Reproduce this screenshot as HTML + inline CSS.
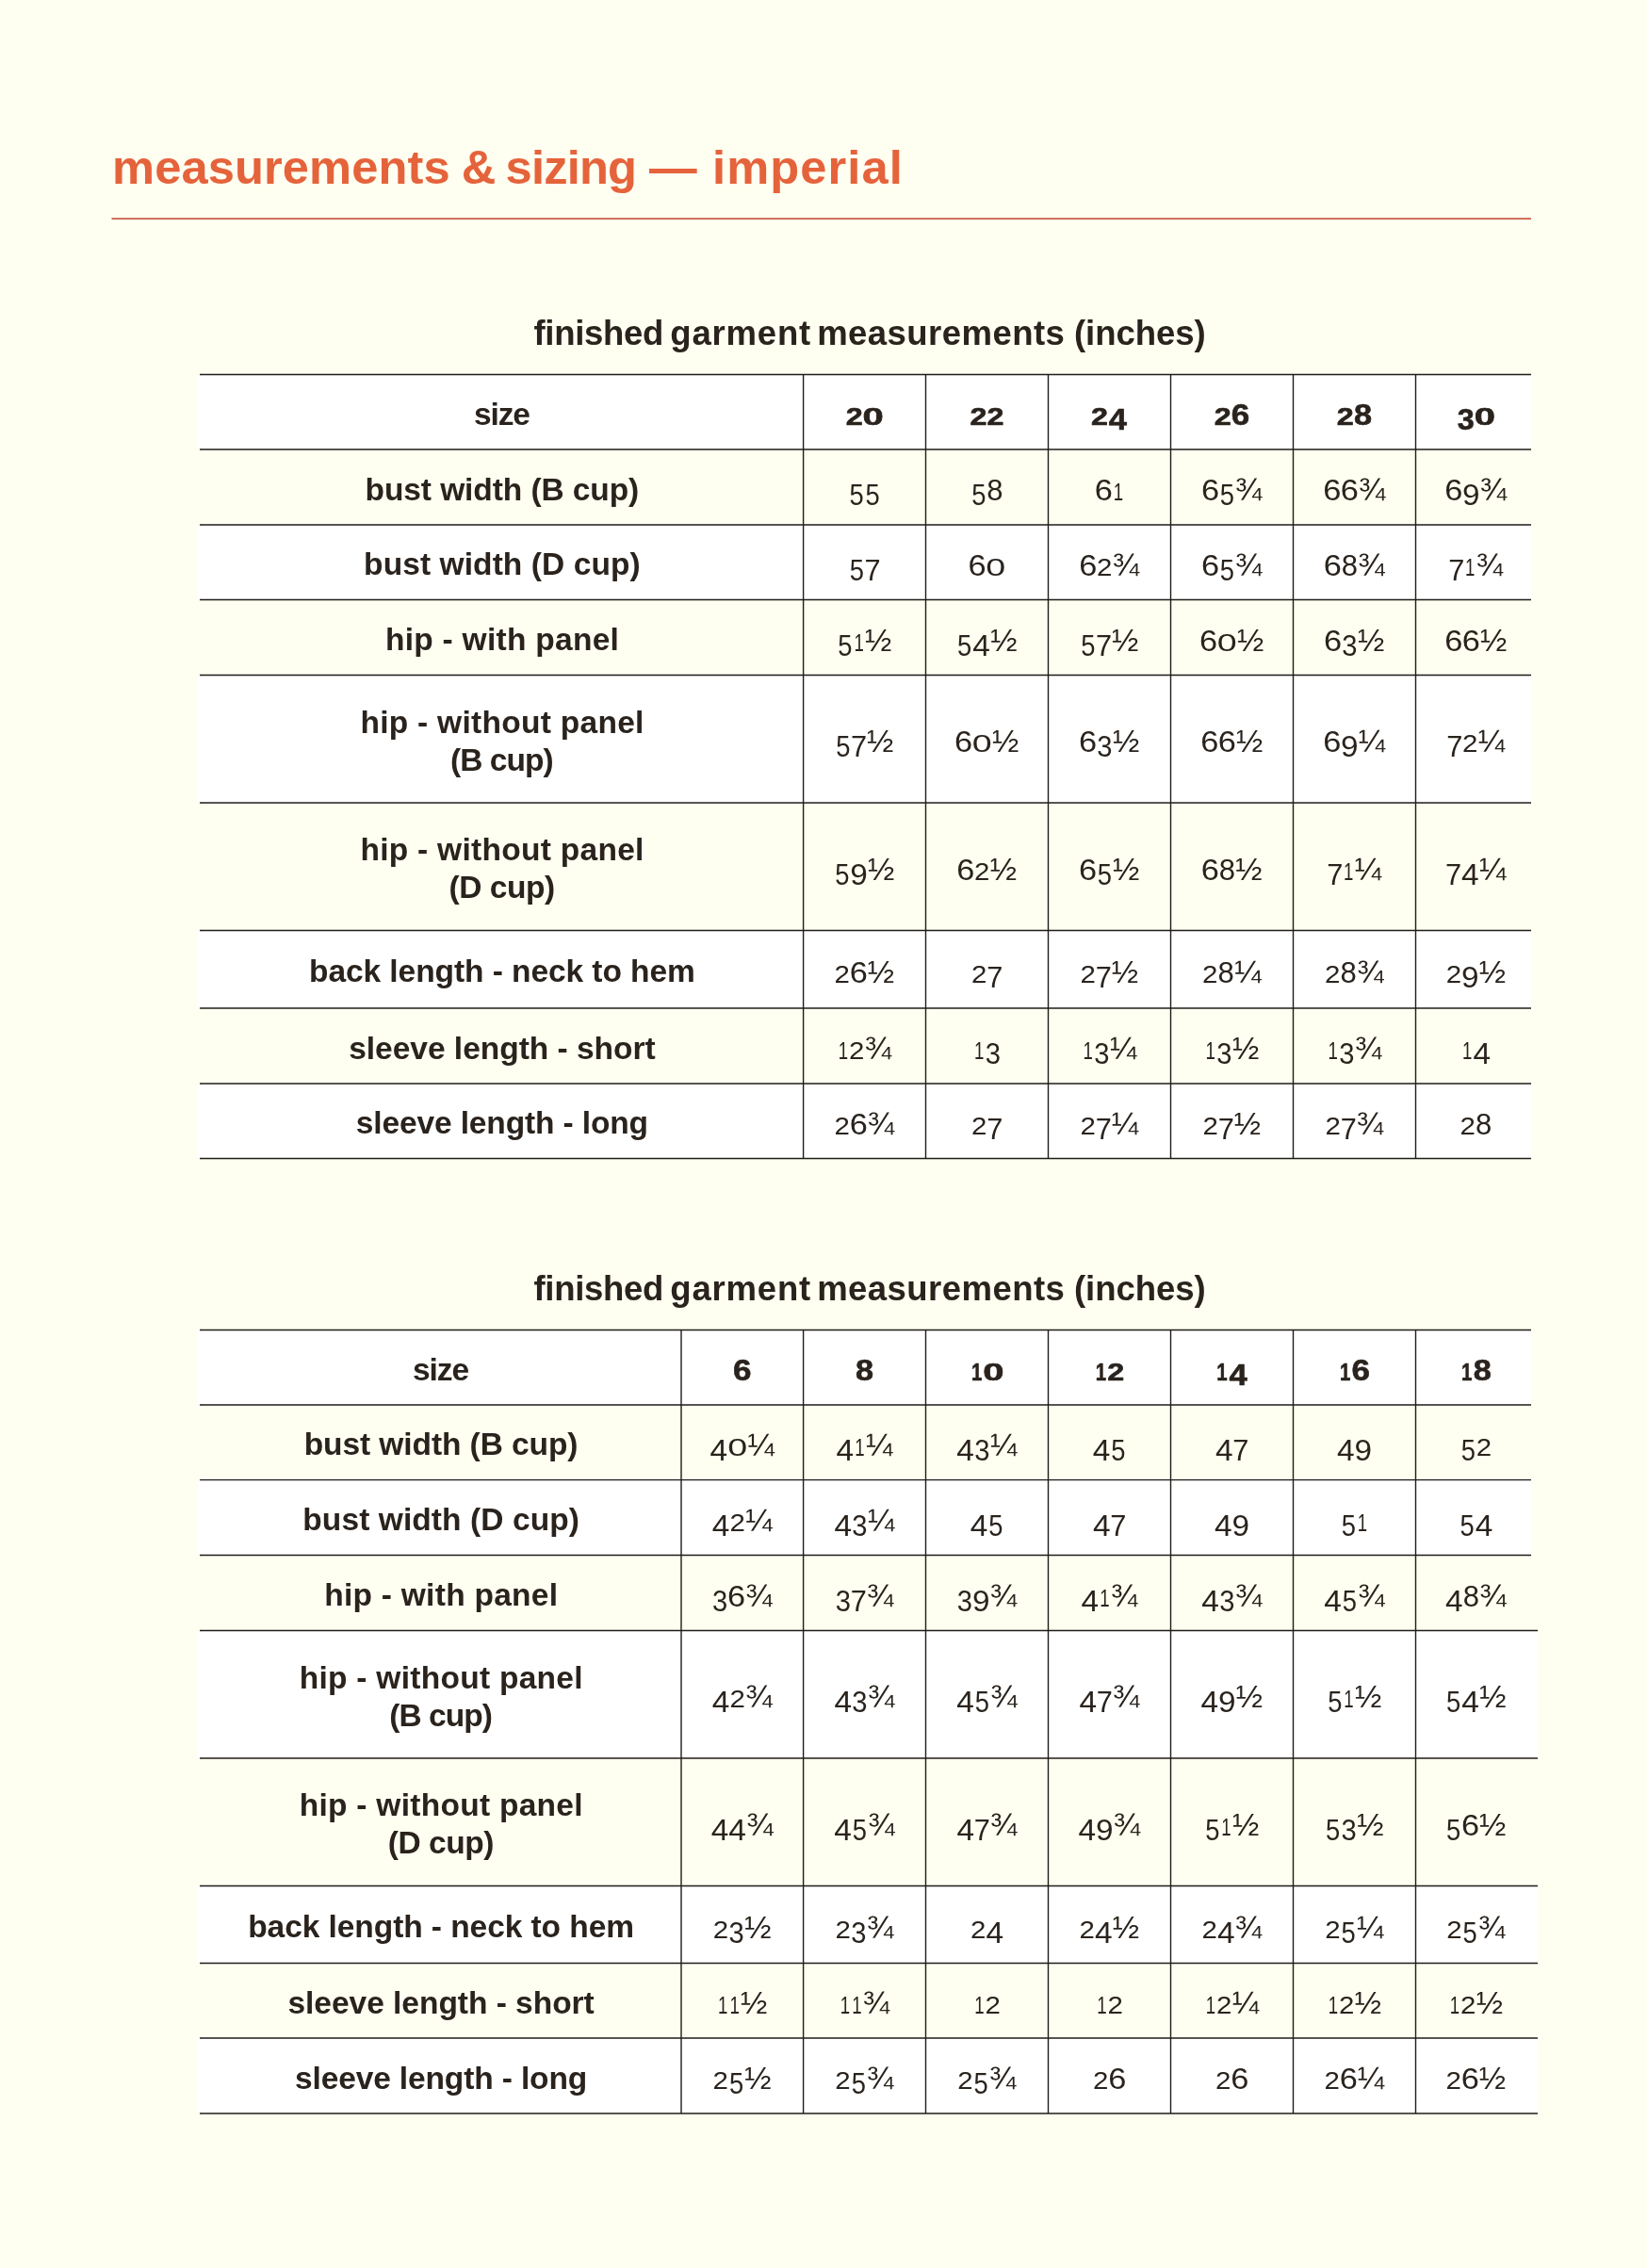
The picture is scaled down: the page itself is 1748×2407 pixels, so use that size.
<!DOCTYPE html>
<html lang="en"><head><meta charset="utf-8">
<title>measurements &amp; sizing — imperial</title>
<style>
html,body{margin:0;padding:0;background:#FEFEF1;}
body{width:1748px;height:2407px;overflow:hidden;position:relative;}
svg{position:absolute;left:0;top:0;display:block;will-change:transform;}
text{font-family:"Liberation Sans",Arial,sans-serif;fill:#2A231D;}
.h1{font-weight:700;font-size:50.66px;fill:#E5633B;}
.sub{font-weight:700;font-size:36.56px;}
.l{font-weight:700;font-size:33.5px;text-anchor:middle;}
.n{font-weight:400;font-size:28.5px;text-anchor:middle;}
.hn{font-weight:700;font-size:28.5px;text-anchor:middle;stroke:#2A231D;stroke-width:0.6px;stroke-linejoin:round;}
.grid line{stroke:#1F1D18;stroke-width:1.4;}
</style></head>
<body>
<svg width="1748" height="2407" viewBox="0 0 1748 2407">
<g class="bg">
<rect x="209.5" y="397.50" width="1415.50" height="79.50" fill="#FFFFFF"/>
<rect x="209.5" y="557.00" width="1415.50" height="79.50" fill="#FFFFFF"/>
<rect x="209.5" y="716.50" width="1415.50" height="135.50" fill="#FFFFFF"/>
<rect x="209.5" y="987.50" width="1415.50" height="82.50" fill="#FFFFFF"/>
<rect x="209.5" y="1150.00" width="1415.50" height="79.50" fill="#FFFFFF"/>
<rect x="209.5" y="1411.50" width="1415.50" height="79.50" fill="#FFFFFF"/>
<rect x="209.5" y="1570.60" width="1415.50" height="79.90" fill="#FFFFFF"/>
<rect x="209.5" y="1730.50" width="1422.50" height="135.50" fill="#FFFFFF"/>
<rect x="209.5" y="2001.50" width="1422.50" height="82.00" fill="#FFFFFF"/>
<rect x="209.5" y="2163.00" width="1422.50" height="80.00" fill="#FFFFFF"/>
</g>
<g class="grid">
<line x1="212" y1="397.50" x2="1625" y2="397.50"/>
<line x1="212" y1="477.00" x2="1625" y2="477.00"/>
<line x1="212" y1="557.00" x2="1625" y2="557.00"/>
<line x1="212" y1="636.50" x2="1625" y2="636.50"/>
<line x1="212" y1="716.50" x2="1625" y2="716.50"/>
<line x1="212" y1="852.00" x2="1625" y2="852.00"/>
<line x1="212" y1="987.50" x2="1625" y2="987.50"/>
<line x1="212" y1="1070.00" x2="1625" y2="1070.00"/>
<line x1="212" y1="1150.00" x2="1625" y2="1150.00"/>
<line x1="212" y1="1229.50" x2="1625" y2="1229.50"/>
<line x1="852.60" y1="397.50" x2="852.60" y2="1229.50"/>
<line x1="982.50" y1="397.50" x2="982.50" y2="1229.50"/>
<line x1="1112.50" y1="397.50" x2="1112.50" y2="1229.50"/>
<line x1="1242.50" y1="397.50" x2="1242.50" y2="1229.50"/>
<line x1="1372.50" y1="397.50" x2="1372.50" y2="1229.50"/>
<line x1="1502.50" y1="397.50" x2="1502.50" y2="1229.50"/>
<line x1="212" y1="1411.50" x2="1625" y2="1411.50"/>
<line x1="212" y1="1491.00" x2="1625" y2="1491.00"/>
<line x1="212" y1="1570.60" x2="1625" y2="1570.60"/>
<line x1="212" y1="1650.50" x2="1625" y2="1650.50"/>
<line x1="212" y1="1730.50" x2="1632" y2="1730.50"/>
<line x1="212" y1="1866.00" x2="1632" y2="1866.00"/>
<line x1="212" y1="2001.50" x2="1632" y2="2001.50"/>
<line x1="212" y1="2083.50" x2="1632" y2="2083.50"/>
<line x1="212" y1="2163.00" x2="1632" y2="2163.00"/>
<line x1="212" y1="2243.00" x2="1632" y2="2243.00"/>
<line x1="723.00" y1="1411.50" x2="723.00" y2="2243.00"/>
<line x1="852.60" y1="1411.50" x2="852.60" y2="2243.00"/>
<line x1="982.50" y1="1411.50" x2="982.50" y2="2243.00"/>
<line x1="1112.50" y1="1411.50" x2="1112.50" y2="2243.00"/>
<line x1="1242.50" y1="1411.50" x2="1242.50" y2="2243.00"/>
<line x1="1372.50" y1="1411.50" x2="1372.50" y2="2243.00"/>
<line x1="1502.50" y1="1411.50" x2="1502.50" y2="2243.00"/>
</g>
<rect x="118.5" y="231.2" width="1506.5" height="1.8" fill="#C9644A"/>
<text class="h1" y="194.7"><tspan x="119" textLength="358.67" lengthAdjust="spacing">measurements</tspan> <tspan x="489.8">&amp;</tspan> <tspan x="536.6" textLength="139.34" lengthAdjust="spacing">sizing</tspan> <tspan x="689">—</tspan> <tspan x="756" textLength="201.77" lengthAdjust="spacing">imperial</tspan></text>
<text class="sub" y="366"><tspan x="566.5" textLength="137.72" lengthAdjust="spacing">finished</tspan> <tspan x="711.3" textLength="148.87" lengthAdjust="spacing">garment</tspan> <tspan x="867.2" textLength="262.63" lengthAdjust="spacing">measurements</tspan> <tspan x="1140" textLength="139.57" lengthAdjust="spacing">(inches)</tspan></text>
<text class="sub" y="1379.6"><tspan x="566.5" textLength="137.72" lengthAdjust="spacing">finished</tspan> <tspan x="711.3" textLength="148.87" lengthAdjust="spacing">garment</tspan> <tspan x="867.2" textLength="262.63" lengthAdjust="spacing">measurements</tspan> <tspan x="1140" textLength="139.57" lengthAdjust="spacing">(inches)</tspan></text>
<g class="tx">
<text class="l" x="532.90" y="450.85" textLength="60.03" lengthAdjust="spacing">size</text>
<text class="hn"><tspan x="906.80" y="450.85" font-size="25.5" textLength="17.96" lengthAdjust="spacingAndGlyphs">2</tspan><tspan x="926.55" y="450.85" font-size="25.5" textLength="22.25" lengthAdjust="spacingAndGlyphs">0</tspan></text>
<text class="hn"><tspan x="1038.50" y="450.85" font-size="25.5" textLength="17.96" lengthAdjust="spacingAndGlyphs">2</tspan><tspan x="1056.50" y="450.85" font-size="25.5" textLength="17.96" lengthAdjust="spacingAndGlyphs">2</tspan></text>
<text class="hn"><tspan x="1167.00" y="450.85" font-size="25.5" textLength="17.96" lengthAdjust="spacingAndGlyphs">2</tspan><tspan x="1186.50" y="455.85" font-size="32.0" textLength="19.23" lengthAdjust="spacingAndGlyphs">4</tspan></text>
<text class="hn"><tspan x="1297.75" y="450.85" font-size="25.5" textLength="17.96" lengthAdjust="spacingAndGlyphs">2</tspan><tspan x="1316.50" y="450.85" font-size="32.0" textLength="19.49" lengthAdjust="spacingAndGlyphs">6</tspan></text>
<text class="hn"><tspan x="1427.75" y="450.85" font-size="25.5" textLength="17.96" lengthAdjust="spacingAndGlyphs">2</tspan><tspan x="1446.50" y="450.85" font-size="32.0" textLength="19.10" lengthAdjust="spacingAndGlyphs">8</tspan></text>
<text class="hn"><tspan x="1555.75" y="455.85" font-size="32.0" textLength="17.98" lengthAdjust="spacingAndGlyphs">3</tspan><tspan x="1575.75" y="450.85" font-size="25.5" textLength="22.25" lengthAdjust="spacingAndGlyphs">0</tspan></text>
<text class="l" x="532.90" y="530.60" textLength="290.76" lengthAdjust="spacing">bust width (B cup)</text>
<text class="n"><tspan x="909.05" y="536.10" font-size="32.0" textLength="15.22" lengthAdjust="spacingAndGlyphs">5</tspan><tspan x="926.05" y="536.10" font-size="32.0" textLength="15.22" lengthAdjust="spacingAndGlyphs">5</tspan></text>
<text class="n"><tspan x="1038.80" y="536.10" font-size="32.0" textLength="15.22" lengthAdjust="spacingAndGlyphs">5</tspan><tspan x="1056.00" y="531.10" font-size="32.0" textLength="17.28" lengthAdjust="spacingAndGlyphs">8</tspan></text>
<text class="n"><tspan x="1171.25" y="531.10" font-size="32.0" textLength="19.10" lengthAdjust="spacingAndGlyphs">6</tspan><tspan x="1186.80" y="531.10" font-size="25.5" textLength="10.35" lengthAdjust="spacingAndGlyphs">1</tspan></text>
<text class="n"><tspan x="1284.50" y="531.10" font-size="32.0" textLength="19.10" lengthAdjust="spacingAndGlyphs">6</tspan><tspan x="1302.30" y="536.10" font-size="32.0" textLength="15.22" lengthAdjust="spacingAndGlyphs">5</tspan><tspan x="1325.30" y="531.10" font-size="34">¾</tspan></text>
<text class="n"><tspan x="1413.70" y="531.10" font-size="32.0" textLength="19.10" lengthAdjust="spacingAndGlyphs">6</tspan><tspan x="1432.30" y="531.10" font-size="32.0" textLength="19.10" lengthAdjust="spacingAndGlyphs">6</tspan><tspan x="1456.10" y="531.10" font-size="34">¾</tspan></text>
<text class="n"><tspan x="1542.85" y="531.10" font-size="32.0" textLength="19.10" lengthAdjust="spacingAndGlyphs">6</tspan><tspan x="1561.30" y="536.10" font-size="32.0" textLength="18.54" lengthAdjust="spacingAndGlyphs">9</tspan><tspan x="1584.95" y="531.10" font-size="34">¾</tspan></text>
<text class="l" x="532.90" y="610.35" textLength="293.56" lengthAdjust="spacing">bust width (D cup)</text>
<text class="n"><tspan x="909.30" y="615.85" font-size="32.0" textLength="15.22" lengthAdjust="spacingAndGlyphs">5</tspan><tspan x="926.05" y="615.85" font-size="32.0" textLength="17.11" lengthAdjust="spacingAndGlyphs">7</tspan></text>
<text class="n"><tspan x="1037.00" y="610.85" font-size="32.0" textLength="19.10" lengthAdjust="spacingAndGlyphs">6</tspan><tspan x="1056.80" y="610.85" font-size="25.5" textLength="20.96" lengthAdjust="spacingAndGlyphs">0</tspan></text>
<text class="n"><tspan x="1154.80" y="610.85" font-size="32.0" textLength="19.10" lengthAdjust="spacingAndGlyphs">6</tspan><tspan x="1172.30" y="610.85" font-size="25.5" textLength="16.38" lengthAdjust="spacingAndGlyphs">2</tspan><tspan x="1195.00" y="610.85" font-size="34">¾</tspan></text>
<text class="n"><tspan x="1284.50" y="610.85" font-size="32.0" textLength="19.10" lengthAdjust="spacingAndGlyphs">6</tspan><tspan x="1302.30" y="615.85" font-size="32.0" textLength="15.22" lengthAdjust="spacingAndGlyphs">5</tspan><tspan x="1325.30" y="610.85" font-size="34">¾</tspan></text>
<text class="n"><tspan x="1414.30" y="610.85" font-size="32.0" textLength="19.10" lengthAdjust="spacingAndGlyphs">6</tspan><tspan x="1432.30" y="610.85" font-size="32.0" textLength="17.28" lengthAdjust="spacingAndGlyphs">8</tspan><tspan x="1455.50" y="610.85" font-size="34">¾</tspan></text>
<text class="n"><tspan x="1545.75" y="615.85" font-size="32.0" textLength="17.11" lengthAdjust="spacingAndGlyphs">7</tspan><tspan x="1560.25" y="610.85" font-size="25.5" textLength="10.35" lengthAdjust="spacingAndGlyphs">1</tspan><tspan x="1581.00" y="610.85" font-size="34">¾</tspan></text>
<text class="l" x="532.90" y="690.10" textLength="247.91" lengthAdjust="spacing">hip - with panel</text>
<text class="n"><tspan x="896.80" y="695.60" font-size="32.0" textLength="15.22" lengthAdjust="spacingAndGlyphs">5</tspan><tspan x="911.55" y="690.60" font-size="25.5" textLength="10.35" lengthAdjust="spacingAndGlyphs">1</tspan><tspan x="932.30" y="690.60" font-size="34">½</tspan></text>
<text class="n"><tspan x="1023.65" y="695.60" font-size="32.0" textLength="15.22" lengthAdjust="spacingAndGlyphs">5</tspan><tspan x="1041.50" y="695.60" font-size="32.0" textLength="18.58" lengthAdjust="spacingAndGlyphs">4</tspan><tspan x="1065.35" y="690.60" font-size="34">½</tspan></text>
<text class="n"><tspan x="1154.75" y="695.60" font-size="32.0" textLength="15.22" lengthAdjust="spacingAndGlyphs">5</tspan><tspan x="1171.50" y="695.60" font-size="32.0" textLength="17.11" lengthAdjust="spacingAndGlyphs">7</tspan><tspan x="1194.25" y="690.60" font-size="34">½</tspan></text>
<text class="n"><tspan x="1282.50" y="690.60" font-size="32.0" textLength="19.10" lengthAdjust="spacingAndGlyphs">6</tspan><tspan x="1302.30" y="690.60" font-size="25.5" textLength="20.96" lengthAdjust="spacingAndGlyphs">0</tspan><tspan x="1327.30" y="690.60" font-size="34">½</tspan></text>
<text class="n"><tspan x="1414.65" y="690.60" font-size="32.0" textLength="19.10" lengthAdjust="spacingAndGlyphs">6</tspan><tspan x="1432.30" y="695.60" font-size="32.0" textLength="16.21" lengthAdjust="spacingAndGlyphs">3</tspan><tspan x="1455.15" y="690.60" font-size="34">½</tspan></text>
<text class="n"><tspan x="1542.70" y="690.60" font-size="32.0" textLength="19.10" lengthAdjust="spacingAndGlyphs">6</tspan><tspan x="1561.30" y="690.60" font-size="32.0" textLength="19.10" lengthAdjust="spacingAndGlyphs">6</tspan><tspan x="1585.10" y="690.60" font-size="34">½</tspan></text>
<text class="l" x="532.90" y="777.75" textLength="300.91" lengthAdjust="spacing">hip - without panel</text>
<text class="l" x="532.90" y="817.95" textLength="109.66" lengthAdjust="spacing">(B cup)</text>
<text class="n"><tspan x="894.80" y="803.35" font-size="32.0" textLength="15.22" lengthAdjust="spacingAndGlyphs">5</tspan><tspan x="911.55" y="803.35" font-size="32.0" textLength="17.11" lengthAdjust="spacingAndGlyphs">7</tspan><tspan x="934.30" y="798.35" font-size="34">½</tspan></text>
<text class="n"><tspan x="1022.50" y="798.35" font-size="32.0" textLength="19.10" lengthAdjust="spacingAndGlyphs">6</tspan><tspan x="1042.30" y="798.35" font-size="25.5" textLength="20.96" lengthAdjust="spacingAndGlyphs">0</tspan><tspan x="1067.30" y="798.35" font-size="34">½</tspan></text>
<text class="n"><tspan x="1154.65" y="798.35" font-size="32.0" textLength="19.10" lengthAdjust="spacingAndGlyphs">6</tspan><tspan x="1172.30" y="803.35" font-size="32.0" textLength="16.21" lengthAdjust="spacingAndGlyphs">3</tspan><tspan x="1195.15" y="798.35" font-size="34">½</tspan></text>
<text class="n"><tspan x="1283.70" y="798.35" font-size="32.0" textLength="19.10" lengthAdjust="spacingAndGlyphs">6</tspan><tspan x="1302.30" y="798.35" font-size="32.0" textLength="19.10" lengthAdjust="spacingAndGlyphs">6</tspan><tspan x="1326.10" y="798.35" font-size="34">½</tspan></text>
<text class="n"><tspan x="1413.85" y="798.35" font-size="32.0" textLength="19.10" lengthAdjust="spacingAndGlyphs">6</tspan><tspan x="1432.30" y="803.35" font-size="32.0" textLength="18.54" lengthAdjust="spacingAndGlyphs">9</tspan><tspan x="1455.95" y="798.35" font-size="34">¼</tspan></text>
<text class="n"><tspan x="1543.80" y="803.35" font-size="32.0" textLength="17.11" lengthAdjust="spacingAndGlyphs">7</tspan><tspan x="1560.25" y="798.35" font-size="25.5" textLength="16.38" lengthAdjust="spacingAndGlyphs">2</tspan><tspan x="1582.95" y="798.35" font-size="34">¼</tspan></text>
<text class="l" x="532.90" y="913.25" textLength="300.91" lengthAdjust="spacing">hip - without panel</text>
<text class="l" x="532.90" y="953.45" textLength="112.66" lengthAdjust="spacing">(D cup)</text>
<text class="n"><tspan x="893.90" y="938.85" font-size="32.0" textLength="15.22" lengthAdjust="spacingAndGlyphs">5</tspan><tspan x="911.55" y="938.85" font-size="32.0" textLength="18.54" lengthAdjust="spacingAndGlyphs">9</tspan><tspan x="935.20" y="933.85" font-size="34">½</tspan></text>
<text class="n"><tspan x="1024.80" y="933.85" font-size="32.0" textLength="19.10" lengthAdjust="spacingAndGlyphs">6</tspan><tspan x="1042.30" y="933.85" font-size="25.5" textLength="16.38" lengthAdjust="spacingAndGlyphs">2</tspan><tspan x="1065.00" y="933.85" font-size="34">½</tspan></text>
<text class="n"><tspan x="1154.50" y="933.85" font-size="32.0" textLength="19.10" lengthAdjust="spacingAndGlyphs">6</tspan><tspan x="1172.30" y="938.85" font-size="32.0" textLength="15.22" lengthAdjust="spacingAndGlyphs">5</tspan><tspan x="1195.30" y="933.85" font-size="34">½</tspan></text>
<text class="n"><tspan x="1284.30" y="933.85" font-size="32.0" textLength="19.10" lengthAdjust="spacingAndGlyphs">6</tspan><tspan x="1302.30" y="933.85" font-size="32.0" textLength="17.28" lengthAdjust="spacingAndGlyphs">8</tspan><tspan x="1325.50" y="933.85" font-size="34">½</tspan></text>
<text class="n"><tspan x="1416.75" y="938.85" font-size="32.0" textLength="17.11" lengthAdjust="spacingAndGlyphs">7</tspan><tspan x="1431.25" y="933.85" font-size="25.5" textLength="10.35" lengthAdjust="spacingAndGlyphs">1</tspan><tspan x="1452.00" y="933.85" font-size="34">¼</tspan></text>
<text class="n"><tspan x="1542.65" y="938.85" font-size="32.0" textLength="17.11" lengthAdjust="spacingAndGlyphs">7</tspan><tspan x="1560.25" y="938.85" font-size="32.0" textLength="18.58" lengthAdjust="spacingAndGlyphs">4</tspan><tspan x="1584.10" y="933.85" font-size="34">¼</tspan></text>
<text class="l" x="532.90" y="1042.35" textLength="409.79" lengthAdjust="spacing">back length - neck to hem</text>
<text class="n"><tspan x="893.75" y="1042.85" font-size="25.5" textLength="16.38" lengthAdjust="spacingAndGlyphs">2</tspan><tspan x="911.25" y="1042.85" font-size="32.0" textLength="19.10" lengthAdjust="spacingAndGlyphs">6</tspan><tspan x="935.05" y="1042.85" font-size="34">½</tspan></text>
<text class="n"><tspan x="1039.25" y="1042.85" font-size="25.5" textLength="16.38" lengthAdjust="spacingAndGlyphs">2</tspan><tspan x="1055.70" y="1047.85" font-size="32.0" textLength="17.11" lengthAdjust="spacingAndGlyphs">7</tspan></text>
<text class="n"><tspan x="1154.75" y="1042.85" font-size="25.5" textLength="16.38" lengthAdjust="spacingAndGlyphs">2</tspan><tspan x="1171.20" y="1047.85" font-size="32.0" textLength="17.11" lengthAdjust="spacingAndGlyphs">7</tspan><tspan x="1193.95" y="1042.85" font-size="34">½</tspan></text>
<text class="n"><tspan x="1284.30" y="1042.85" font-size="25.5" textLength="16.38" lengthAdjust="spacingAndGlyphs">2</tspan><tspan x="1301.20" y="1042.85" font-size="32.0" textLength="17.28" lengthAdjust="spacingAndGlyphs">8</tspan><tspan x="1324.40" y="1042.85" font-size="34">¼</tspan></text>
<text class="n"><tspan x="1414.30" y="1042.85" font-size="25.5" textLength="16.38" lengthAdjust="spacingAndGlyphs">2</tspan><tspan x="1431.20" y="1042.85" font-size="32.0" textLength="17.28" lengthAdjust="spacingAndGlyphs">8</tspan><tspan x="1454.40" y="1042.85" font-size="34">¾</tspan></text>
<text class="n"><tspan x="1542.85" y="1042.85" font-size="25.5" textLength="16.38" lengthAdjust="spacingAndGlyphs">2</tspan><tspan x="1560.20" y="1047.85" font-size="32.0" textLength="18.54" lengthAdjust="spacingAndGlyphs">9</tspan><tspan x="1583.85" y="1042.85" font-size="34">½</tspan></text>
<text class="l" x="532.90" y="1123.60" textLength="325.36" lengthAdjust="spacing">sleeve length - short</text>
<text class="n"><tspan x="894.85" y="1124.10" font-size="25.5" textLength="10.35" lengthAdjust="spacingAndGlyphs">1</tspan><tspan x="909.30" y="1124.10" font-size="25.5" textLength="16.38" lengthAdjust="spacingAndGlyphs">2</tspan><tspan x="932.00" y="1124.10" font-size="34">¾</tspan></text>
<text class="n"><tspan x="1039.15" y="1124.10" font-size="25.5" textLength="10.35" lengthAdjust="spacingAndGlyphs">1</tspan><tspan x="1053.75" y="1129.10" font-size="32.0" textLength="16.21" lengthAdjust="spacingAndGlyphs">3</tspan></text>
<text class="n"><tspan x="1154.65" y="1124.10" font-size="25.5" textLength="10.35" lengthAdjust="spacingAndGlyphs">1</tspan><tspan x="1169.25" y="1129.10" font-size="32.0" textLength="16.21" lengthAdjust="spacingAndGlyphs">3</tspan><tspan x="1192.10" y="1124.10" font-size="34">¼</tspan></text>
<text class="n"><tspan x="1284.65" y="1124.10" font-size="25.5" textLength="10.35" lengthAdjust="spacingAndGlyphs">1</tspan><tspan x="1299.25" y="1129.10" font-size="32.0" textLength="16.21" lengthAdjust="spacingAndGlyphs">3</tspan><tspan x="1322.10" y="1124.10" font-size="34">½</tspan></text>
<text class="n"><tspan x="1414.65" y="1124.10" font-size="25.5" textLength="10.35" lengthAdjust="spacingAndGlyphs">1</tspan><tspan x="1429.25" y="1129.10" font-size="32.0" textLength="16.21" lengthAdjust="spacingAndGlyphs">3</tspan><tspan x="1452.10" y="1124.10" font-size="34">¾</tspan></text>
<text class="n"><tspan x="1557.15" y="1124.10" font-size="25.5" textLength="10.35" lengthAdjust="spacingAndGlyphs">1</tspan><tspan x="1572.75" y="1129.10" font-size="32.0" textLength="18.58" lengthAdjust="spacingAndGlyphs">4</tspan></text>
<text class="l" x="532.90" y="1203.35" textLength="310.26" lengthAdjust="spacing">sleeve length - long</text>
<text class="n"><tspan x="893.75" y="1203.85" font-size="25.5" textLength="16.38" lengthAdjust="spacingAndGlyphs">2</tspan><tspan x="911.25" y="1203.85" font-size="32.0" textLength="19.10" lengthAdjust="spacingAndGlyphs">6</tspan><tspan x="935.05" y="1203.85" font-size="34">¾</tspan></text>
<text class="n"><tspan x="1039.25" y="1203.85" font-size="25.5" textLength="16.38" lengthAdjust="spacingAndGlyphs">2</tspan><tspan x="1055.70" y="1208.85" font-size="32.0" textLength="17.11" lengthAdjust="spacingAndGlyphs">7</tspan></text>
<text class="n"><tspan x="1154.75" y="1203.85" font-size="25.5" textLength="16.38" lengthAdjust="spacingAndGlyphs">2</tspan><tspan x="1171.20" y="1208.85" font-size="32.0" textLength="17.11" lengthAdjust="spacingAndGlyphs">7</tspan><tspan x="1193.95" y="1203.85" font-size="34">¼</tspan></text>
<text class="n"><tspan x="1284.75" y="1203.85" font-size="25.5" textLength="16.38" lengthAdjust="spacingAndGlyphs">2</tspan><tspan x="1301.20" y="1208.85" font-size="32.0" textLength="17.11" lengthAdjust="spacingAndGlyphs">7</tspan><tspan x="1323.95" y="1203.85" font-size="34">½</tspan></text>
<text class="n"><tspan x="1414.75" y="1203.85" font-size="25.5" textLength="16.38" lengthAdjust="spacingAndGlyphs">2</tspan><tspan x="1431.20" y="1208.85" font-size="32.0" textLength="17.11" lengthAdjust="spacingAndGlyphs">7</tspan><tspan x="1453.95" y="1203.85" font-size="34">¾</tspan></text>
<text class="n"><tspan x="1557.80" y="1203.85" font-size="25.5" textLength="16.38" lengthAdjust="spacingAndGlyphs">2</tspan><tspan x="1574.70" y="1203.85" font-size="32.0" textLength="17.28" lengthAdjust="spacingAndGlyphs">8</tspan></text>
<text class="l" x="468.10" y="1464.85" textLength="60.03" lengthAdjust="spacing">size</text>
<text class="hn"><tspan x="787.80" y="1464.85" font-size="32.0" textLength="19.49" lengthAdjust="spacingAndGlyphs">6</tspan></text>
<text class="hn"><tspan x="917.55" y="1464.85" font-size="32.0" textLength="19.10" lengthAdjust="spacingAndGlyphs">8</tspan></text>
<text class="hn"><tspan x="1036.75" y="1464.85" font-size="25.5" textLength="11.36" lengthAdjust="spacingAndGlyphs">1</tspan><tspan x="1054.25" y="1464.85" font-size="25.5" textLength="22.25" lengthAdjust="spacingAndGlyphs">0</tspan></text>
<text class="hn"><tspan x="1168.50" y="1464.85" font-size="25.5" textLength="11.36" lengthAdjust="spacingAndGlyphs">1</tspan><tspan x="1184.25" y="1464.85" font-size="25.5" textLength="17.96" lengthAdjust="spacingAndGlyphs">2</tspan></text>
<text class="hn"><tspan x="1297.00" y="1464.85" font-size="25.5" textLength="11.36" lengthAdjust="spacingAndGlyphs">1</tspan><tspan x="1314.25" y="1469.85" font-size="32.0" textLength="19.23" lengthAdjust="spacingAndGlyphs">4</tspan></text>
<text class="hn"><tspan x="1427.75" y="1464.85" font-size="25.5" textLength="11.36" lengthAdjust="spacingAndGlyphs">1</tspan><tspan x="1444.25" y="1464.85" font-size="32.0" textLength="19.49" lengthAdjust="spacingAndGlyphs">6</tspan></text>
<text class="hn"><tspan x="1556.75" y="1464.85" font-size="25.5" textLength="11.36" lengthAdjust="spacingAndGlyphs">1</tspan><tspan x="1573.25" y="1464.85" font-size="32.0" textLength="19.10" lengthAdjust="spacingAndGlyphs">8</tspan></text>
<text class="l" x="468.10" y="1544.40" textLength="290.76" lengthAdjust="spacing">bust width (B cup)</text>
<text class="n"><tspan x="762.80" y="1549.90" font-size="32.0" textLength="18.58" lengthAdjust="spacingAndGlyphs">4</tspan><tspan x="782.65" y="1544.90" font-size="25.5" textLength="20.96" lengthAdjust="spacingAndGlyphs">0</tspan><tspan x="807.65" y="1544.90" font-size="34">¼</tspan></text>
<text class="n"><tspan x="896.80" y="1549.90" font-size="32.0" textLength="18.58" lengthAdjust="spacingAndGlyphs">4</tspan><tspan x="912.40" y="1544.90" font-size="25.5" textLength="10.35" lengthAdjust="spacingAndGlyphs">1</tspan><tspan x="933.15" y="1544.90" font-size="34">¼</tspan></text>
<text class="n"><tspan x="1024.65" y="1549.90" font-size="32.0" textLength="18.58" lengthAdjust="spacingAndGlyphs">4</tspan><tspan x="1042.35" y="1549.90" font-size="32.0" textLength="16.21" lengthAdjust="spacingAndGlyphs">3</tspan><tspan x="1065.20" y="1544.90" font-size="34">¼</tspan></text>
<text class="n"><tspan x="1169.00" y="1549.90" font-size="32.0" textLength="18.58" lengthAdjust="spacingAndGlyphs">4</tspan><tspan x="1186.85" y="1549.90" font-size="32.0" textLength="15.22" lengthAdjust="spacingAndGlyphs">5</tspan></text>
<text class="n"><tspan x="1299.25" y="1549.90" font-size="32.0" textLength="18.58" lengthAdjust="spacingAndGlyphs">4</tspan><tspan x="1316.85" y="1549.90" font-size="32.0" textLength="17.11" lengthAdjust="spacingAndGlyphs">7</tspan></text>
<text class="n"><tspan x="1428.35" y="1549.90" font-size="32.0" textLength="18.58" lengthAdjust="spacingAndGlyphs">4</tspan><tspan x="1446.85" y="1549.90" font-size="32.0" textLength="18.54" lengthAdjust="spacingAndGlyphs">9</tspan></text>
<text class="n"><tspan x="1558.30" y="1549.90" font-size="32.0" textLength="15.22" lengthAdjust="spacingAndGlyphs">5</tspan><tspan x="1575.00" y="1544.90" font-size="25.5" textLength="16.38" lengthAdjust="spacingAndGlyphs">2</tspan></text>
<text class="l" x="468.10" y="1624.15" textLength="293.56" lengthAdjust="spacing">bust width (D cup)</text>
<text class="n"><tspan x="765.10" y="1629.65" font-size="32.0" textLength="18.58" lengthAdjust="spacingAndGlyphs">4</tspan><tspan x="782.65" y="1624.65" font-size="25.5" textLength="16.38" lengthAdjust="spacingAndGlyphs">2</tspan><tspan x="805.35" y="1624.65" font-size="34">¼</tspan></text>
<text class="n"><tspan x="894.70" y="1629.65" font-size="32.0" textLength="18.58" lengthAdjust="spacingAndGlyphs">4</tspan><tspan x="912.40" y="1629.65" font-size="32.0" textLength="16.21" lengthAdjust="spacingAndGlyphs">3</tspan><tspan x="935.25" y="1624.65" font-size="34">¼</tspan></text>
<text class="n"><tspan x="1039.00" y="1629.65" font-size="32.0" textLength="18.58" lengthAdjust="spacingAndGlyphs">4</tspan><tspan x="1056.85" y="1629.65" font-size="32.0" textLength="15.22" lengthAdjust="spacingAndGlyphs">5</tspan></text>
<text class="n"><tspan x="1169.25" y="1629.65" font-size="32.0" textLength="18.58" lengthAdjust="spacingAndGlyphs">4</tspan><tspan x="1186.85" y="1629.65" font-size="32.0" textLength="17.11" lengthAdjust="spacingAndGlyphs">7</tspan></text>
<text class="n"><tspan x="1298.35" y="1629.65" font-size="32.0" textLength="18.58" lengthAdjust="spacingAndGlyphs">4</tspan><tspan x="1316.85" y="1629.65" font-size="32.0" textLength="18.54" lengthAdjust="spacingAndGlyphs">9</tspan></text>
<text class="n"><tspan x="1431.25" y="1629.65" font-size="32.0" textLength="15.22" lengthAdjust="spacingAndGlyphs">5</tspan><tspan x="1446.00" y="1624.65" font-size="25.5" textLength="10.35" lengthAdjust="spacingAndGlyphs">1</tspan></text>
<text class="n"><tspan x="1557.15" y="1629.65" font-size="32.0" textLength="15.22" lengthAdjust="spacingAndGlyphs">5</tspan><tspan x="1575.00" y="1629.65" font-size="32.0" textLength="18.58" lengthAdjust="spacingAndGlyphs">4</tspan></text>
<text class="l" x="468.10" y="1704.10" textLength="247.91" lengthAdjust="spacing">hip - with panel</text>
<text class="n"><tspan x="764.00" y="1709.60" font-size="32.0" textLength="16.21" lengthAdjust="spacingAndGlyphs">3</tspan><tspan x="781.65" y="1704.60" font-size="32.0" textLength="19.10" lengthAdjust="spacingAndGlyphs">6</tspan><tspan x="805.45" y="1704.60" font-size="34">¾</tspan></text>
<text class="n"><tspan x="894.80" y="1709.60" font-size="32.0" textLength="16.21" lengthAdjust="spacingAndGlyphs">3</tspan><tspan x="911.40" y="1709.60" font-size="32.0" textLength="17.11" lengthAdjust="spacingAndGlyphs">7</tspan><tspan x="934.15" y="1704.60" font-size="34">¾</tspan></text>
<text class="n"><tspan x="1023.85" y="1709.60" font-size="32.0" textLength="16.21" lengthAdjust="spacingAndGlyphs">3</tspan><tspan x="1041.35" y="1709.60" font-size="32.0" textLength="18.54" lengthAdjust="spacingAndGlyphs">9</tspan><tspan x="1065.00" y="1704.60" font-size="34">¾</tspan></text>
<text class="n"><tspan x="1156.75" y="1709.60" font-size="32.0" textLength="18.58" lengthAdjust="spacingAndGlyphs">4</tspan><tspan x="1172.35" y="1704.60" font-size="25.5" textLength="10.35" lengthAdjust="spacingAndGlyphs">1</tspan><tspan x="1193.10" y="1704.60" font-size="34">¾</tspan></text>
<text class="n"><tspan x="1284.65" y="1709.60" font-size="32.0" textLength="18.58" lengthAdjust="spacingAndGlyphs">4</tspan><tspan x="1302.35" y="1709.60" font-size="32.0" textLength="16.21" lengthAdjust="spacingAndGlyphs">3</tspan><tspan x="1325.20" y="1704.60" font-size="34">¾</tspan></text>
<text class="n"><tspan x="1414.50" y="1709.60" font-size="32.0" textLength="18.58" lengthAdjust="spacingAndGlyphs">4</tspan><tspan x="1432.35" y="1709.60" font-size="32.0" textLength="15.22" lengthAdjust="spacingAndGlyphs">5</tspan><tspan x="1455.35" y="1704.60" font-size="34">¾</tspan></text>
<text class="n"><tspan x="1543.30" y="1709.60" font-size="32.0" textLength="18.58" lengthAdjust="spacingAndGlyphs">4</tspan><tspan x="1561.35" y="1704.60" font-size="32.0" textLength="17.28" lengthAdjust="spacingAndGlyphs">8</tspan><tspan x="1584.55" y="1704.60" font-size="34">¾</tspan></text>
<text class="l" x="468.10" y="1791.75" textLength="300.91" lengthAdjust="spacing">hip - without panel</text>
<text class="l" x="468.10" y="1831.95" textLength="109.66" lengthAdjust="spacing">(B cup)</text>
<text class="n"><tspan x="765.10" y="1817.35" font-size="32.0" textLength="18.58" lengthAdjust="spacingAndGlyphs">4</tspan><tspan x="782.65" y="1812.35" font-size="25.5" textLength="16.38" lengthAdjust="spacingAndGlyphs">2</tspan><tspan x="805.35" y="1812.35" font-size="34">¾</tspan></text>
<text class="n"><tspan x="894.70" y="1817.35" font-size="32.0" textLength="18.58" lengthAdjust="spacingAndGlyphs">4</tspan><tspan x="912.40" y="1817.35" font-size="32.0" textLength="16.21" lengthAdjust="spacingAndGlyphs">3</tspan><tspan x="935.25" y="1812.35" font-size="34">¾</tspan></text>
<text class="n"><tspan x="1024.50" y="1817.35" font-size="32.0" textLength="18.58" lengthAdjust="spacingAndGlyphs">4</tspan><tspan x="1042.35" y="1817.35" font-size="32.0" textLength="15.22" lengthAdjust="spacingAndGlyphs">5</tspan><tspan x="1065.35" y="1812.35" font-size="34">¾</tspan></text>
<text class="n"><tspan x="1154.75" y="1817.35" font-size="32.0" textLength="18.58" lengthAdjust="spacingAndGlyphs">4</tspan><tspan x="1172.35" y="1817.35" font-size="32.0" textLength="17.11" lengthAdjust="spacingAndGlyphs">7</tspan><tspan x="1195.10" y="1812.35" font-size="34">¾</tspan></text>
<text class="n"><tspan x="1283.85" y="1817.35" font-size="32.0" textLength="18.58" lengthAdjust="spacingAndGlyphs">4</tspan><tspan x="1302.35" y="1817.35" font-size="32.0" textLength="18.54" lengthAdjust="spacingAndGlyphs">9</tspan><tspan x="1326.00" y="1812.35" font-size="34">½</tspan></text>
<text class="n"><tspan x="1416.75" y="1817.35" font-size="32.0" textLength="15.22" lengthAdjust="spacingAndGlyphs">5</tspan><tspan x="1431.50" y="1812.35" font-size="25.5" textLength="10.35" lengthAdjust="spacingAndGlyphs">1</tspan><tspan x="1452.25" y="1812.35" font-size="34">½</tspan></text>
<text class="n"><tspan x="1542.65" y="1817.35" font-size="32.0" textLength="15.22" lengthAdjust="spacingAndGlyphs">5</tspan><tspan x="1560.50" y="1817.35" font-size="32.0" textLength="18.58" lengthAdjust="spacingAndGlyphs">4</tspan><tspan x="1584.35" y="1812.35" font-size="34">½</tspan></text>
<text class="l" x="468.10" y="1927.25" textLength="300.91" lengthAdjust="spacing">hip - without panel</text>
<text class="l" x="468.10" y="1967.45" textLength="112.66" lengthAdjust="spacing">(D cup)</text>
<text class="n"><tspan x="763.95" y="1952.85" font-size="32.0" textLength="18.58" lengthAdjust="spacingAndGlyphs">4</tspan><tspan x="782.65" y="1952.85" font-size="32.0" textLength="18.58" lengthAdjust="spacingAndGlyphs">4</tspan><tspan x="806.50" y="1947.85" font-size="34">¾</tspan></text>
<text class="n"><tspan x="894.55" y="1952.85" font-size="32.0" textLength="18.58" lengthAdjust="spacingAndGlyphs">4</tspan><tspan x="912.40" y="1952.85" font-size="32.0" textLength="15.22" lengthAdjust="spacingAndGlyphs">5</tspan><tspan x="935.40" y="1947.85" font-size="34">¾</tspan></text>
<text class="n"><tspan x="1024.75" y="1952.85" font-size="32.0" textLength="18.58" lengthAdjust="spacingAndGlyphs">4</tspan><tspan x="1042.35" y="1952.85" font-size="32.0" textLength="17.11" lengthAdjust="spacingAndGlyphs">7</tspan><tspan x="1065.10" y="1947.85" font-size="34">¾</tspan></text>
<text class="n"><tspan x="1153.85" y="1952.85" font-size="32.0" textLength="18.58" lengthAdjust="spacingAndGlyphs">4</tspan><tspan x="1172.35" y="1952.85" font-size="32.0" textLength="18.54" lengthAdjust="spacingAndGlyphs">9</tspan><tspan x="1196.00" y="1947.85" font-size="34">¾</tspan></text>
<text class="n"><tspan x="1286.75" y="1952.85" font-size="32.0" textLength="15.22" lengthAdjust="spacingAndGlyphs">5</tspan><tspan x="1301.50" y="1947.85" font-size="25.5" textLength="10.35" lengthAdjust="spacingAndGlyphs">1</tspan><tspan x="1322.25" y="1947.85" font-size="34">½</tspan></text>
<text class="n"><tspan x="1414.65" y="1952.85" font-size="32.0" textLength="15.22" lengthAdjust="spacingAndGlyphs">5</tspan><tspan x="1431.50" y="1952.85" font-size="32.0" textLength="16.21" lengthAdjust="spacingAndGlyphs">3</tspan><tspan x="1454.35" y="1947.85" font-size="34">½</tspan></text>
<text class="n"><tspan x="1542.70" y="1952.85" font-size="32.0" textLength="15.22" lengthAdjust="spacingAndGlyphs">5</tspan><tspan x="1560.50" y="1947.85" font-size="32.0" textLength="19.10" lengthAdjust="spacingAndGlyphs">6</tspan><tspan x="1584.30" y="1947.85" font-size="34">½</tspan></text>
<text class="l" x="468.10" y="2056.10" textLength="409.79" lengthAdjust="spacing">back length - neck to hem</text>
<text class="n"><tspan x="764.95" y="2056.60" font-size="25.5" textLength="16.38" lengthAdjust="spacingAndGlyphs">2</tspan><tspan x="781.50" y="2061.60" font-size="32.0" textLength="16.21" lengthAdjust="spacingAndGlyphs">3</tspan><tspan x="804.35" y="2056.60" font-size="34">½</tspan></text>
<text class="n"><tspan x="894.70" y="2056.60" font-size="25.5" textLength="16.38" lengthAdjust="spacingAndGlyphs">2</tspan><tspan x="911.25" y="2061.60" font-size="32.0" textLength="16.21" lengthAdjust="spacingAndGlyphs">3</tspan><tspan x="934.10" y="2056.60" font-size="34">¾</tspan></text>
<text class="n"><tspan x="1038.15" y="2056.60" font-size="25.5" textLength="16.38" lengthAdjust="spacingAndGlyphs">2</tspan><tspan x="1055.70" y="2061.60" font-size="32.0" textLength="18.58" lengthAdjust="spacingAndGlyphs">4</tspan></text>
<text class="n"><tspan x="1153.65" y="2056.60" font-size="25.5" textLength="16.38" lengthAdjust="spacingAndGlyphs">2</tspan><tspan x="1171.20" y="2061.60" font-size="32.0" textLength="18.58" lengthAdjust="spacingAndGlyphs">4</tspan><tspan x="1195.05" y="2056.60" font-size="34">½</tspan></text>
<text class="n"><tspan x="1283.65" y="2056.60" font-size="25.5" textLength="16.38" lengthAdjust="spacingAndGlyphs">2</tspan><tspan x="1301.20" y="2061.60" font-size="32.0" textLength="18.58" lengthAdjust="spacingAndGlyphs">4</tspan><tspan x="1325.05" y="2056.60" font-size="34">¾</tspan></text>
<text class="n"><tspan x="1414.50" y="2056.60" font-size="25.5" textLength="16.38" lengthAdjust="spacingAndGlyphs">2</tspan><tspan x="1431.20" y="2061.60" font-size="32.0" textLength="15.22" lengthAdjust="spacingAndGlyphs">5</tspan><tspan x="1454.20" y="2056.60" font-size="34">¼</tspan></text>
<text class="n"><tspan x="1543.50" y="2056.60" font-size="25.5" textLength="16.38" lengthAdjust="spacingAndGlyphs">2</tspan><tspan x="1560.20" y="2061.60" font-size="32.0" textLength="15.22" lengthAdjust="spacingAndGlyphs">5</tspan><tspan x="1583.20" y="2056.60" font-size="34">¾</tspan></text>
<text class="l" x="468.10" y="2136.85" textLength="325.36" lengthAdjust="spacing">sleeve length - short</text>
<text class="n"><tspan x="767.05" y="2137.35" font-size="25.5" textLength="10.35" lengthAdjust="spacingAndGlyphs">1</tspan><tspan x="779.55" y="2137.35" font-size="25.5" textLength="10.35" lengthAdjust="spacingAndGlyphs">1</tspan><tspan x="800.30" y="2137.35" font-size="34">½</tspan></text>
<text class="n"><tspan x="896.80" y="2137.35" font-size="25.5" textLength="10.35" lengthAdjust="spacingAndGlyphs">1</tspan><tspan x="909.30" y="2137.35" font-size="25.5" textLength="10.35" lengthAdjust="spacingAndGlyphs">1</tspan><tspan x="930.05" y="2137.35" font-size="34">¾</tspan></text>
<text class="n"><tspan x="1039.30" y="2137.35" font-size="25.5" textLength="10.35" lengthAdjust="spacingAndGlyphs">1</tspan><tspan x="1053.75" y="2137.35" font-size="25.5" textLength="16.38" lengthAdjust="spacingAndGlyphs">2</tspan></text>
<text class="n"><tspan x="1169.30" y="2137.35" font-size="25.5" textLength="10.35" lengthAdjust="spacingAndGlyphs">1</tspan><tspan x="1183.75" y="2137.35" font-size="25.5" textLength="16.38" lengthAdjust="spacingAndGlyphs">2</tspan></text>
<text class="n"><tspan x="1284.80" y="2137.35" font-size="25.5" textLength="10.35" lengthAdjust="spacingAndGlyphs">1</tspan><tspan x="1299.25" y="2137.35" font-size="25.5" textLength="16.38" lengthAdjust="spacingAndGlyphs">2</tspan><tspan x="1321.95" y="2137.35" font-size="34">¼</tspan></text>
<text class="n"><tspan x="1414.80" y="2137.35" font-size="25.5" textLength="10.35" lengthAdjust="spacingAndGlyphs">1</tspan><tspan x="1429.25" y="2137.35" font-size="25.5" textLength="16.38" lengthAdjust="spacingAndGlyphs">2</tspan><tspan x="1451.95" y="2137.35" font-size="34">½</tspan></text>
<text class="n"><tspan x="1543.80" y="2137.35" font-size="25.5" textLength="10.35" lengthAdjust="spacingAndGlyphs">1</tspan><tspan x="1558.25" y="2137.35" font-size="25.5" textLength="16.38" lengthAdjust="spacingAndGlyphs">2</tspan><tspan x="1580.95" y="2137.35" font-size="34">½</tspan></text>
<text class="l" x="468.10" y="2216.60" textLength="310.26" lengthAdjust="spacing">sleeve length - long</text>
<text class="n"><tspan x="764.80" y="2217.10" font-size="25.5" textLength="16.38" lengthAdjust="spacingAndGlyphs">2</tspan><tspan x="781.50" y="2222.10" font-size="32.0" textLength="15.22" lengthAdjust="spacingAndGlyphs">5</tspan><tspan x="804.50" y="2217.10" font-size="34">½</tspan></text>
<text class="n"><tspan x="894.55" y="2217.10" font-size="25.5" textLength="16.38" lengthAdjust="spacingAndGlyphs">2</tspan><tspan x="911.25" y="2222.10" font-size="32.0" textLength="15.22" lengthAdjust="spacingAndGlyphs">5</tspan><tspan x="934.25" y="2217.10" font-size="34">¾</tspan></text>
<text class="n"><tspan x="1024.50" y="2217.10" font-size="25.5" textLength="16.38" lengthAdjust="spacingAndGlyphs">2</tspan><tspan x="1041.20" y="2222.10" font-size="32.0" textLength="15.22" lengthAdjust="spacingAndGlyphs">5</tspan><tspan x="1064.20" y="2217.10" font-size="34">¾</tspan></text>
<text class="n"><tspan x="1168.20" y="2217.10" font-size="25.5" textLength="16.38" lengthAdjust="spacingAndGlyphs">2</tspan><tspan x="1185.70" y="2217.10" font-size="32.0" textLength="19.10" lengthAdjust="spacingAndGlyphs">6</tspan></text>
<text class="n"><tspan x="1298.20" y="2217.10" font-size="25.5" textLength="16.38" lengthAdjust="spacingAndGlyphs">2</tspan><tspan x="1315.70" y="2217.10" font-size="32.0" textLength="19.10" lengthAdjust="spacingAndGlyphs">6</tspan></text>
<text class="n"><tspan x="1413.70" y="2217.10" font-size="25.5" textLength="16.38" lengthAdjust="spacingAndGlyphs">2</tspan><tspan x="1431.20" y="2217.10" font-size="32.0" textLength="19.10" lengthAdjust="spacingAndGlyphs">6</tspan><tspan x="1455.00" y="2217.10" font-size="34">¼</tspan></text>
<text class="n"><tspan x="1542.70" y="2217.10" font-size="25.5" textLength="16.38" lengthAdjust="spacingAndGlyphs">2</tspan><tspan x="1560.20" y="2217.10" font-size="32.0" textLength="19.10" lengthAdjust="spacingAndGlyphs">6</tspan><tspan x="1584.00" y="2217.10" font-size="34">½</tspan></text>
</g>
</svg>
</body></html>
